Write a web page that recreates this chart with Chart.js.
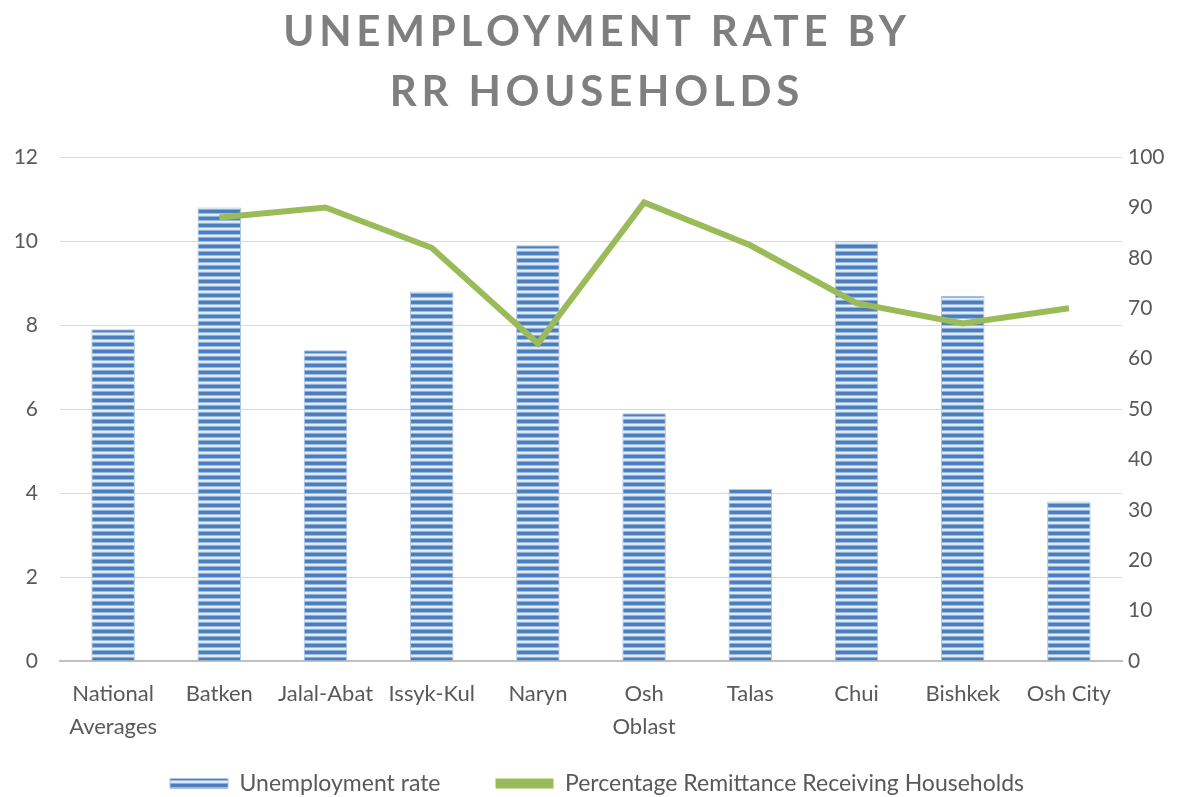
<!DOCTYPE html>
<html>
<head>
<meta charset="utf-8">
<script src="https://cdn.jsdelivr.net/npm/chart.js@4.4.1/dist/chart.umd.min.js"></script>
<style>
  html, body { margin: 0; padding: 0; background: #fff; }
  #wrap { width: 1194px; height: 797px; }
</style>
</head>
<body>
<div id="wrap"><canvas id="chart" width="1194" height="797"></canvas></div>
<script>
const regions = [["National", "Averages"], "Batken", "Jalal-Abat", "Issyk-Kul", "Naryn", ["Osh", "Oblast"], "Talas", "Chui", "Bishkek", "Osh City"];
const unemploymentRate = [7.9, 10.8, 7.4, 8.8, 9.9, 5.9, 4.1, 10.0, 8.7, 3.8];
const remittancePct = [null, 88, 90, 82, 63, 91, 82.5, 71, 67, 70];
const leftTicks = [0, 2, 4, 6, 8, 10, 12];
const rightTicks = [0, 10, 20, 30, 40, 50, 60, 70, 80, 90, 100];

const textGrey = "#595959";
const font = "Lato, 'Open Sans', sans-serif";

// striped fill like the excel bars
function stripes() {
  const c = document.createElement("canvas");
  c.width = 4; c.height = 7;
  const g = c.getContext("2d");
  const rows = ["#4a7dbb", "#4a7dbb", "#4f82be", "#9ab8dd", "#e6eef8", "#dbe6f3", "#8eafd7"];
  rows.forEach((col, i) => { g.fillStyle = col; g.fillRect(0, i, 4, 1); });
  return g.createPattern(c, "repeat");
}
const barFill = stripes();

// letter spacing on the title; legend keeps a wide gap between items
// but sits low and short (its padding would push it off the canvas)
const tweaks = {
  id: "tweaks",
  afterInit(chart) {
    const lg = chart.legend;
    const fit = lg.fit;
    lg.fit = function () { fit.call(this); this.height = 46; };
    const draw = lg.draw;
    lg.draw = function () {
      const top = this.top, bottom = this.bottom;
      this.top = top - 34;
      this.bottom = chart.height;
      draw.call(this);
      this.top = top;
      this.bottom = bottom;
    };
  },
  afterLayout(chart) {
    const t = chart.titleBlock;
    if (!t || t._spaced) return;
    const orig = t.draw;
    t.draw = function () {
      chart.ctx.save();
      chart.ctx.letterSpacing = "4.8px";
      orig.call(this);
      chart.ctx.restore();
    };
    t._spaced = true;
  }
};

new Chart(document.getElementById("chart"), {
  data: {
    labels: regions,
    datasets: [
      {
        type: "line",
        label: "Percentage Remittance Receiving Households",
        data: remittancePct,
        yAxisID: "y2",
        borderColor: "#9bbb59",
        backgroundColor: "#9bbb59",
        borderWidth: 6,
        pointRadius: 0,
        tension: 0,
        order: 0
      },
      {
        type: "bar",
        label: "Unemployment rate",
        data: unemploymentRate,
        yAxisID: "y",
        backgroundColor: barFill,
        borderColor: "#a9c4e6",
        borderWidth: 1,
        barPercentage: 0.41,
        categoryPercentage: 1,
        order: 1
      }
    ]
  },
  options: {
    responsive: false,
    animation: false,
    layout: { padding: { left: 0, right: 0, top: 2, bottom: 0 } },
    plugins: {
      title: {
        display: true,
        text: ["UNEMPLOYMENT RATE BY", "RR HOUSEHOLDS"],
        color: "#7f7f7f",
        font: { family: font, size: 42, weight: "bold", lineHeight: 1.43 },
        padding: { top: 0, bottom: 35 }
      },
      legend: {
        position: "bottom",
        reverse: true,
        labels: {
          color: textGrey,
          font: { family: font, size: 23 },
          boxWidth: 58,
          boxHeight: 10,
          padding: 55,
          // thin flat swatch for the line, no thick outline
          generateLabels: (chart) => Chart.defaults.plugins.legend.labels.generateLabels(chart)
            .map(item => item.datasetIndex === 0 ? { ...item, lineWidth: 0 } : item)
        }
      },
      tooltip: { enabled: false }
    },
    scales: {
      x: {
        grid: { display: false },
        border: { color: "#bfbfbf", width: 2 },
        ticks: { color: textGrey, font: { family: font, size: 22, lineHeight: 1.5 }, maxRotation: 0, autoSkip: false, padding: 8 }
      },
      y: {
        position: "left",
        min: 0, max: 12,
        afterBuildTicks: (s) => { s.ticks = leftTicks.map(v => ({ value: v })); },
        afterFit: (s) => { s.width = 60; },
        grid: { color: "#d9d9d9", drawTicks: false },
        border: { display: false },
        ticks: { color: textGrey, font: { family: font, size: 21 }, padding: 22 }
      },
      y2: {
        position: "right",
        min: 0, max: 100,
        afterBuildTicks: (s) => { s.ticks = rightTicks.map(v => ({ value: v })); },
        afterFit: (s) => { s.width = 72; },
        grid: { drawOnChartArea: false, drawTicks: false },
        border: { display: false },
        ticks: { color: textGrey, font: { family: font, size: 21 }, padding: 6 }
      }
    }
  },
  plugins: [tweaks]
});
</script>
</body>
</html>
